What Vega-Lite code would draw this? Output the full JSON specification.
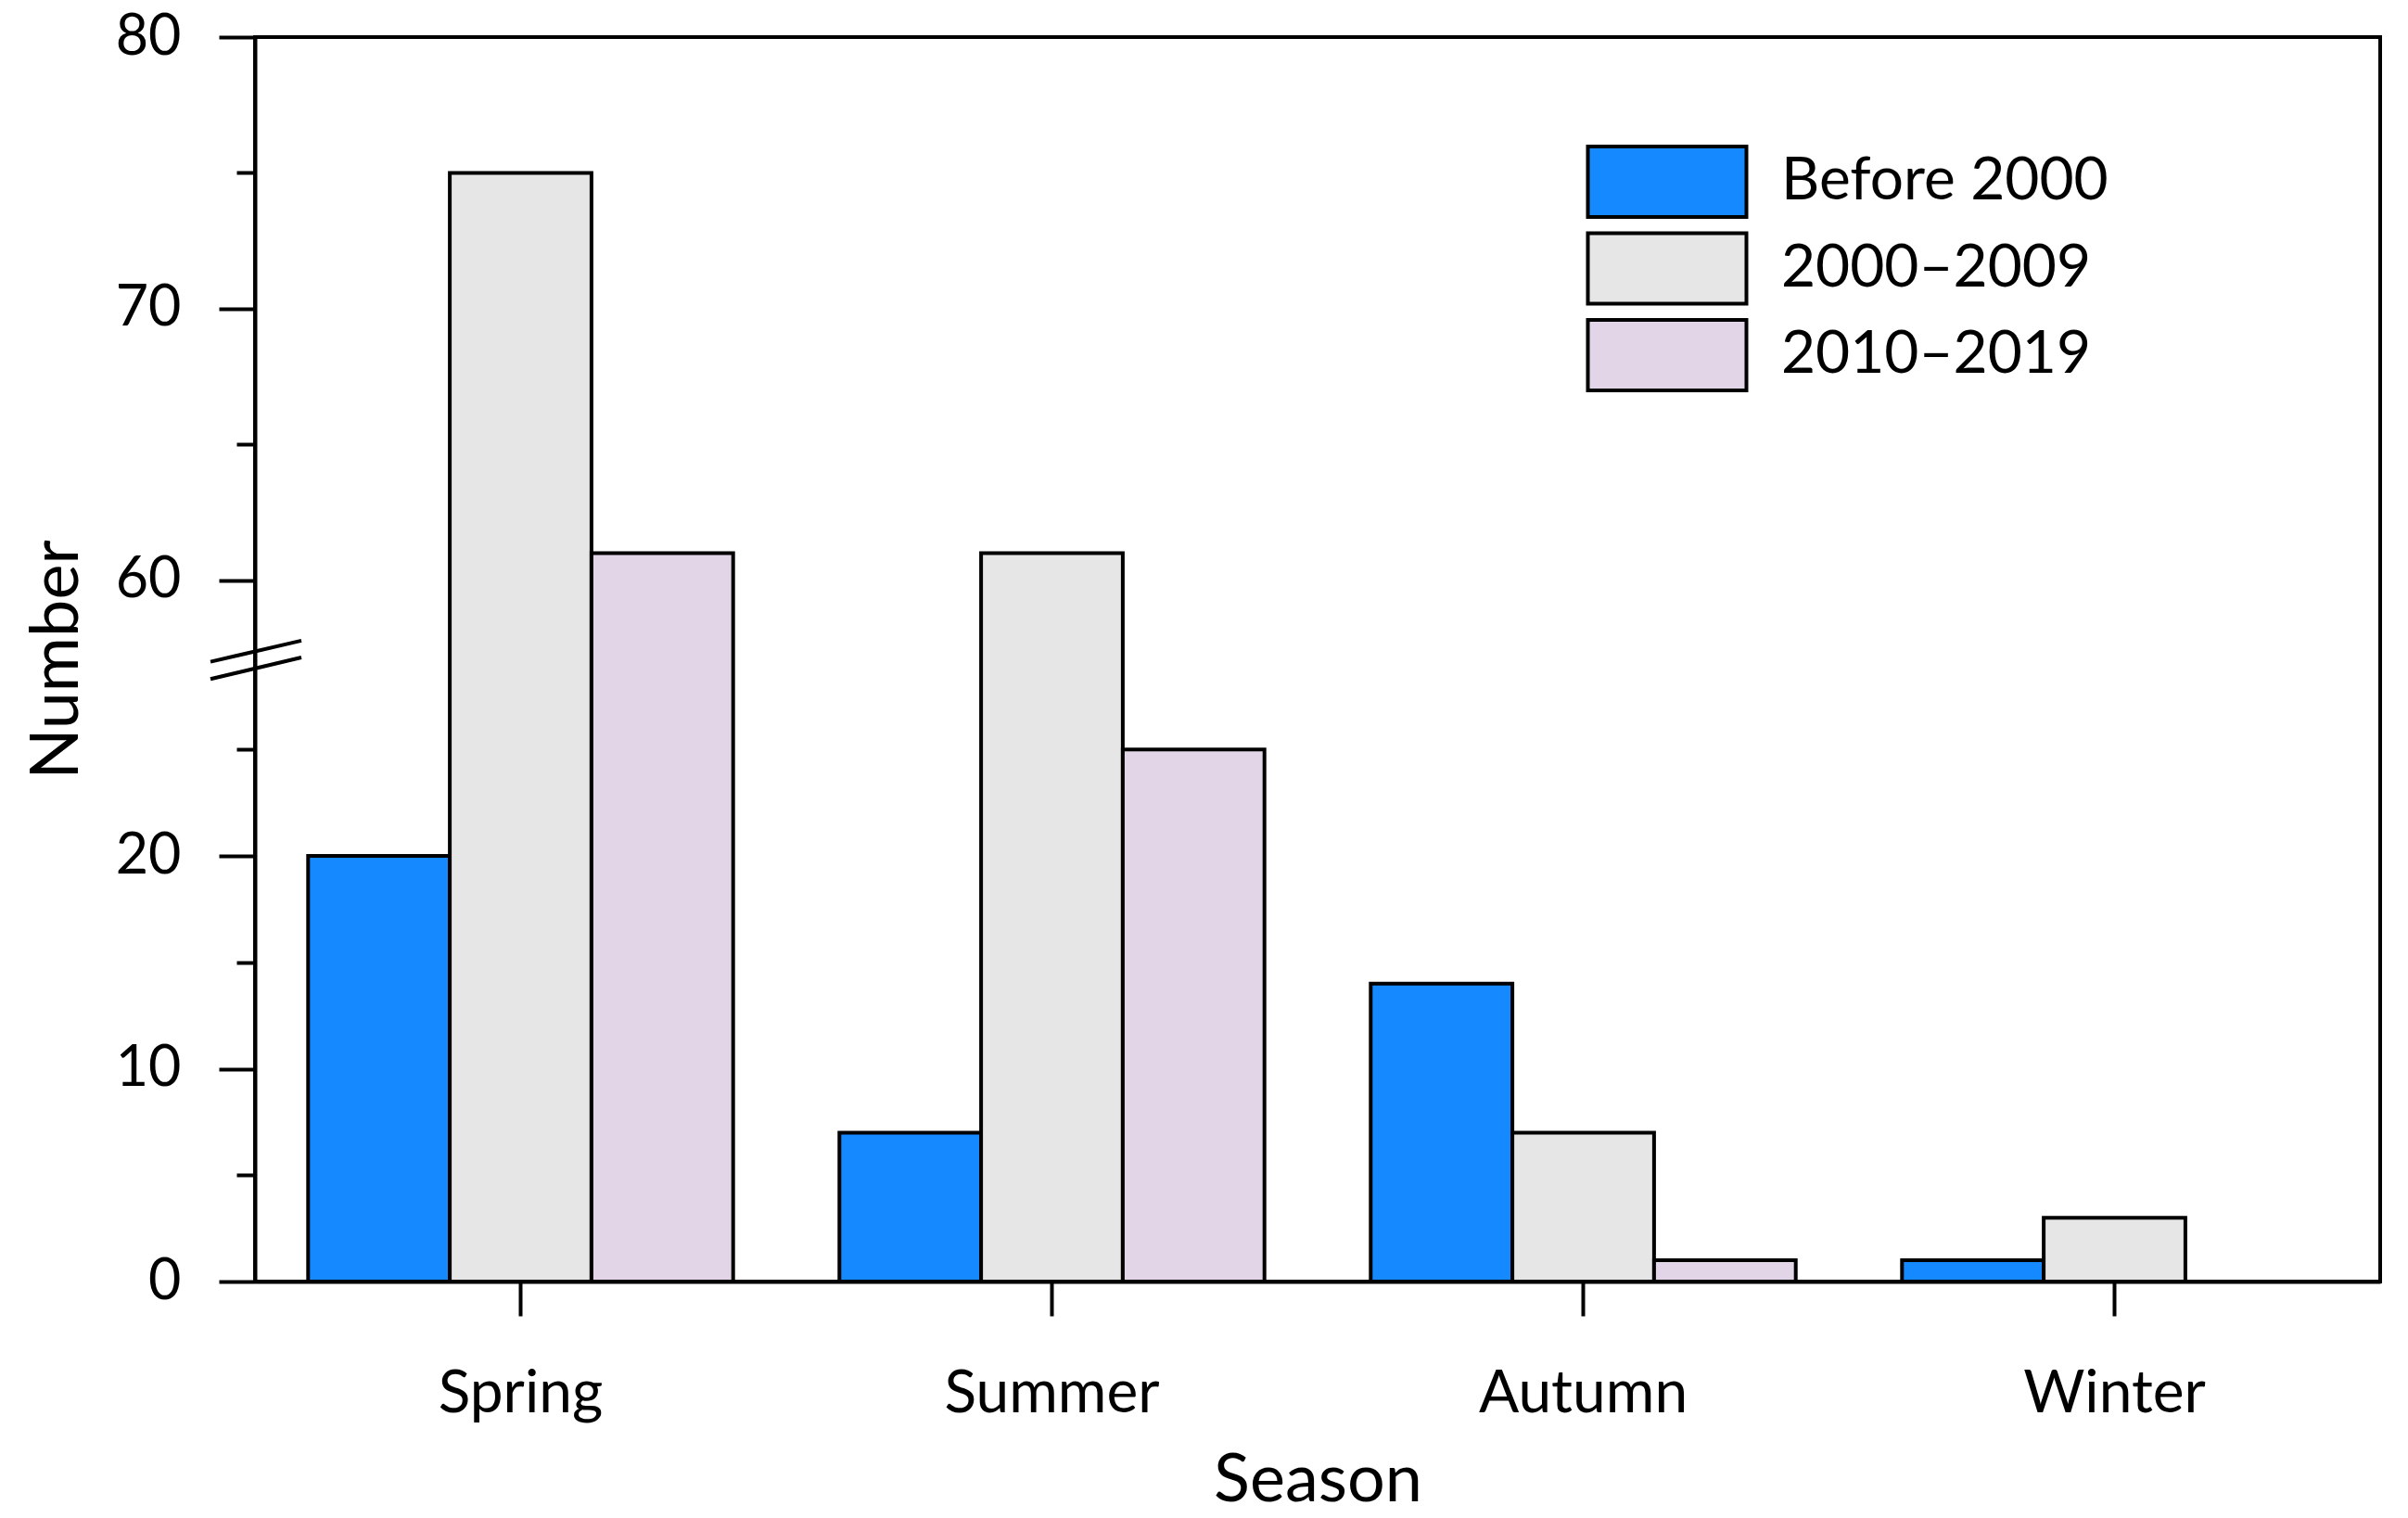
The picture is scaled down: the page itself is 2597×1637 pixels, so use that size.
{
  "$schema": "https://vega.github.io/schema/vega-lite/v6.json",
  "width": 2292,
  "height": 1342,
  "autosize": {"type": "none"},
  "padding": {"left": 275, "top": 40, "right": 30, "bottom": 255},
  "background": "white",
  "config": {
    "font": "Lato",
    "view": {"stroke": "black", "strokeWidth": 4},
    "axis": {
      "domainColor": "black",
      "domainWidth": 4,
      "tickColor": "black",
      "tickWidth": 4,
      "labelColor": "black",
      "titleColor": "black",
      "labelFont": "Lato",
      "titleFont": "Lato",
      "titleFontWeight": "normal",
      "labelLimit": 0,
      "grid": false
    }
  },
  "layer": [
    {
      "data": {
        "values": [
          {"season": "Spring", "period": "Before 2000", "count": 20},
          {"season": "Spring", "period": "2000–2009", "count": 75},
          {"season": "Spring", "period": "2010–2019", "count": 61},
          {"season": "Summer", "period": "Before 2000", "count": 7},
          {"season": "Summer", "period": "2000–2009", "count": 61},
          {"season": "Summer", "period": "2010–2019", "count": 25},
          {"season": "Autumn", "period": "Before 2000", "count": 14},
          {"season": "Autumn", "period": "2000–2009", "count": 7},
          {"season": "Autumn", "period": "2010–2019", "count": 1},
          {"season": "Winter", "period": "Before 2000", "count": 1},
          {"season": "Winter", "period": "2000–2009", "count": 3},
          {"season": "Winter", "period": "2010–2019", "count": 0}
        ]
      },
      "mark": {"type": "bar", "stroke": "black", "strokeWidth": 4, "opacity": 1},
      "encoding": {
        "x": {
          "field": "season",
          "type": "nominal",
          "sort": ["Spring", "Summer", "Autumn", "Winter"],
          "scale": {"paddingInner": 0.2, "paddingOuter": 0.1},
          "axis": {
            "labelAngle": 0,
            "labelFontSize": 64,
            "labelLimit": 0,
            "labelBaseline": "alphabetic",
            "labelPadding": 103,
            "tickSize": 37,
            "title": "Season",
            "titleFontSize": 72,
            "titleBaseline": "alphabetic",
            "titleY": 236
          }
        },
        "xOffset": {
          "field": "period",
          "type": "nominal",
          "sort": ["Before 2000", "2000–2009", "2010–2019"],
          "scale": {"paddingInner": 0, "paddingOuter": 0}
        },
        "y": {
          "field": "count",
          "type": "quantitative",
          "scale": {
            "domain": [0, 29.2, 57.06, 80],
            "range": [1342, 672, 672, 0],
            "nice": false,
            "zero": false
          },
          "axis": {
            "values": [0, 5, 10, 15, 20, 25, 60, 65, 70, 75, 80],
            "tickSize": {"condition": {"test": "datum.value % 10 === 0", "value": 39}, "value": 20},
            "labelExpr": "datum.value % 10 === 0 ? datum.label : ''",
            "labelFontSize": 61,
            "labelPadding": 41,
            "title": "Number",
            "titleFontSize": 72,
            "titleAngle": 270,
            "titleBaseline": "alphabetic",
            "titleX": -192
          }
        },
        "fill": {
          "field": "period",
          "type": "nominal",
          "sort": ["Before 2000", "2000–2009", "2010–2019"],
          "scale": {
            "domain": ["Before 2000", "2000–2009", "2010–2019"],
            "range": ["#1589ff", "#e6e6e6", "#e2d5e8"]
          },
          "legend": {
            "orient": "none",
            "legendX": 1491,
            "legendY": 124,
            "title": null,
            "padding": 0,
            "labelFont": "Lato",
            "labelFontSize": 64,
            "labelColor": "black",
            "labelLimit": 0,
            "labelOffset": 91,
            "symbolType": "M-8.55,-3.8H8.55V3.8H-8.55Z",
            "symbolSize": 400,
            "symbolStrokeColor": "black",
            "symbolStrokeWidth": 4,
            "symbolOpacity": 1,
            "rowPadding": 1.5
          }
        }
      }
    },
    {
      "data": {"values": [{}]},
      "mark": {"type": "rule", "stroke": "black", "strokeWidth": 4},
      "encoding": {
        "x": {"datum": "Spring", "type": "nominal", "bandPosition": -0.2297},
        "x2": {"datum": "Spring", "bandPosition": -0.0159},
        "y": {"datum": 29.13, "type": "quantitative"},
        "y2": {"datum": 57.78}
      }
    },
    {
      "data": {"values": [{}]},
      "mark": {"type": "rule", "stroke": "black", "strokeWidth": 4},
      "encoding": {
        "x": {"datum": "Spring", "type": "nominal", "bandPosition": -0.2297},
        "x2": {"datum": "Spring", "bandPosition": -0.0159},
        "y": {"datum": 28.32, "type": "quantitative"},
        "y2": {"datum": 57.16}
      }
    }
  ]
}
